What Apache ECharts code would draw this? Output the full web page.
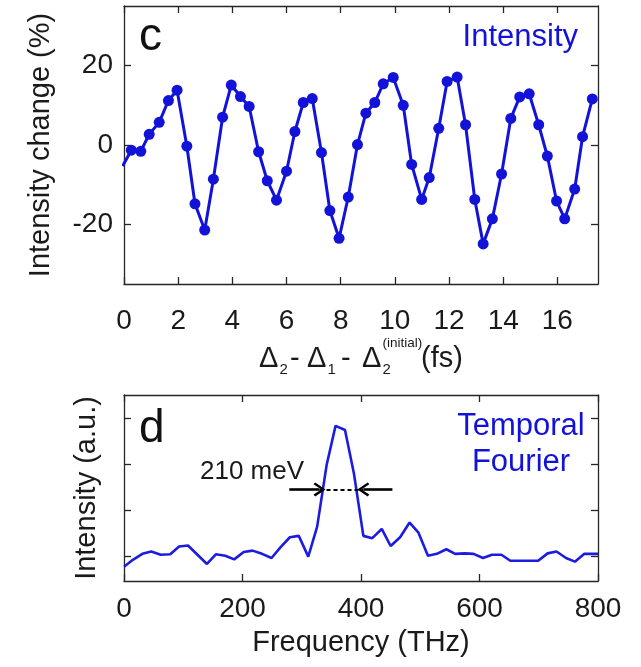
<!DOCTYPE html>
<html><head><meta charset="utf-8">
<script src="https://cdn.jsdelivr.net/npm/echarts@6/dist/echarts.min.js"></script>
<style>html,body{margin:0;padding:0;background:#fff}#c{width:641px;height:667px}</style>
</head><body><div id="c"></div>
<script>
// ---- Panel c: intensity change vs delay ----
const delayFs = [-0.05,0.27,0.62,0.93,1.30,1.64,1.96,2.32,2.62,2.98,3.30,3.64,3.96,4.30,4.62,4.97,5.29,5.63,6.00,6.31,6.62,6.95,7.29,7.60,7.94,8.28,8.62,8.93,9.26,9.57,9.94,10.31,10.62,10.99,11.27,11.62,11.93,12.30,12.61,12.95,13.26,13.60,13.94,14.28,14.61,14.96,15.31,15.63,15.97,16.27,16.64,16.93,17.29];
const intensityChange = [-5.3,-1.3,-1.6,2.7,5.7,11.2,13.8,-0.3,-14.8,-21.4,-8.6,7.0,15.1,12.2,9.7,-1.7,-9.0,-13.9,-6.6,3.4,10.7,11.7,-1.9,-16.5,-23.5,-13.1,0.1,8.0,10.7,15.4,17.0,10.0,-4.9,-13.7,-8.2,4.2,16.0,17.1,5.1,-13.7,-24.9,-18.6,-7.3,6.7,12.1,12.9,5.1,-2.8,-14.1,-18.6,-11.1,2.1,11.6];
const topXTicks = [0,2,4,6,8,10,12,14,16];
const topYTicks = [-20,0,20];

// ---- Panel d: temporal Fourier spectrum ----
const freqTHz = [0,15,31,46,62,78,93,108,124,140,155,171,186,202,217,233,249,264,280,295,311,326,342,357,373,388,404,419,435,450,466,482,497,513,528,544,559,575,590,606,621,637,652,668,684,699,715,730,746,761,777,792,800];
const fourierIntensity = [0.78,0.93,1.06,1.11,1.04,1.05,1.22,1.24,1.04,0.84,1.05,1.02,0.94,1.10,1.13,1.06,0.97,1.20,1.42,1.45,1.00,1.65,2.99,3.84,3.75,2.81,1.45,1.40,1.60,1.23,1.42,1.74,1.52,1.02,1.06,1.16,1.06,1.07,1.06,0.97,1.04,1.04,0.91,0.91,0.91,0.91,1.07,1.11,0.97,0.89,1.06,1.06,1.06];
const bottomXTicks = [0,200,400,600,800];
const bottomYTicks = [1,2,3,4];
// FWHM annotation (data units)
const fwhmLevel = 2.46;
const fwhmLeftTail = 279, fwhmLeftHead = 330;
const fwhmRightHead = 404, fwhmRightTail = 453;

const FONT = '"Liberation Sans", Arial, sans-serif';
const AX = '#262626';
const BLUE = '#1212d8';

function xAx(gi, pos, min, max, ticks, showLabel, margin) {
  return {type:'value', gridIndex:gi, position:pos, min:min, max:max,
    axisLine:{show:true, onZero:false, lineStyle:{color:AX, width:1.3}},
    axisTick:{show:true, inside:true, length:7, customValues:ticks, lineStyle:{color:AX, width:1.3}},
    axisLabel:{show:showLabel, customValues:ticks, margin:margin, fontSize:28, color:'#1a1a1a', fontFamily:FONT},
    splitLine:{show:false}};
}
function yAx(gi, pos, min, max, ticks, showLabel) {
  return {type:'value', gridIndex:gi, position:pos, min:min, max:max,
    axisLine:{show:true, onZero:false, lineStyle:{color:AX, width:1.3}},
    axisTick:{show:true, inside:true, length:7, customValues:ticks, lineStyle:{color:AX, width:1.3}},
    axisLabel:{show:showLabel, customValues:ticks, margin:11, fontSize:28, color:'#1a1a1a', fontFamily:FONT},
    splitLine:{show:false}};
}

const chevron = 'path://M0,0 L7,9 L5.2,10.5 L0,3.6 L-5.2,10.5 L-7,9 Z';

function txt(x, y, text, size, color, align, extra) {
  return Object.assign({type:'text', x:x, y:y, silent:true,
    style:{text:text, fill:color, font:size+'px '+FONT, textAlign:align, textVerticalAlign:'middle', align:align, verticalAlign:'middle'}}, extra||{});
}

const chart = echarts.init(document.getElementById('c'), null, {renderer:'canvas'});
chart.setOption({
  animation:false,
  backgroundColor:'#ffffff',
  grid:[
    {left:124, top:6, width:474, height:278},
    {left:124, top:395, width:474, height:186}
  ],
  xAxis:[
    xAx(0,'bottom',0,17.5,topXTicks,true,23),
    xAx(0,'top',0,17.5,topXTicks,false,0),
    xAx(1,'bottom',0,800,bottomXTicks,true,14),
    xAx(1,'top',0,800,bottomXTicks,false,0)
  ],
  yAxis:[
    yAx(0,'left',-35,35,topYTicks,true),
    yAx(0,'right',-35,35,topYTicks,false),
    yAx(1,'left',0.47,4.51,bottomYTicks,false),
    yAx(1,'right',0.47,4.51,bottomYTicks,false)
  ],
  series:[
    {type:'line', xAxisIndex:0, yAxisIndex:0, clip:true,
     data: delayFs.map((d,i)=>[d, intensityChange[i]]),
     symbol:'circle', symbolSize:11, showSymbol:true,
     lineStyle:{color:BLUE, width:3}, itemStyle:{color:BLUE}},
    {type:'line', xAxisIndex:2, yAxisIndex:2, clip:true,
     data: freqTHz.map((f,i)=>[f, fourierIntensity[i]]),
     symbol:'none', lineStyle:{color:'#1c1ce0', width:2.6},
     markLine:{silent:true, animation:false, label:{show:false},
       symbol:['none','none'],
       data:[
         [{coord:[fwhmLeftTail,fwhmLevel], symbol:'none', lineStyle:{color:'#000', width:2.6, type:'solid'}},
          {coord:[fwhmLeftHead,fwhmLevel], symbol:chevron, symbolSize:[14,12]}],
         [{coord:[fwhmRightTail,fwhmLevel], symbol:'none', lineStyle:{color:'#000', width:2.6, type:'solid'}},
          {coord:[fwhmRightHead,fwhmLevel], symbol:chevron, symbolSize:[14,12]}],
         [{coord:[fwhmLeftHead,fwhmLevel], symbol:'none', lineStyle:{color:'#000', width:1.8, type:[4,3]}},
          {coord:[fwhmRightHead,fwhmLevel], symbol:'none'}]
       ]}}
  ],
  graphic:[
    txt(139, 37, 'c', 46, '#111', 'left'),
    txt(578, 37.5, 'Intensity', 31, BLUE, 'right'),
    txt(41, 145, 'Intensity change (%)', 29, '#1a1a1a', 'center', {rotation:Math.PI/2}),
    // x label of panel c
    txt(259, 358.5, 'Δ', 29, '#1a1a1a', 'left'),
    txt(279.5, 370, '2', 15, '#1a1a1a', 'left'),
    txt(290, 358.5, '-', 29, '#1a1a1a', 'left'),
    txt(307, 358.5, 'Δ', 29, '#1a1a1a', 'left'),
    txt(327.5, 370, '1', 15, '#1a1a1a', 'left'),
    txt(341, 358.5, '-', 29, '#1a1a1a', 'left'),
    txt(362, 358.5, 'Δ', 29, '#1a1a1a', 'left'),
    txt(382.5, 370, '2', 15, '#1a1a1a', 'left'),
    txt(382.5, 343, '(initial)', 13.5, '#1a1a1a', 'left'),
    txt(421, 358.5, '(fs)', 29, '#1a1a1a', 'left'),
    // panel d texts
    txt(139, 429, 'd', 46, '#111', 'left'),
    txt(521, 426, 'Temporal', 31, BLUE, 'center'),
    txt(521, 462.5, 'Fourier', 31, BLUE, 'center'),
    txt(200, 472, '210 meV', 26, '#1a1a1a', 'left'),
    txt(87, 488, 'Intensity (a.u.)', 29, '#1a1a1a', 'center', {rotation:Math.PI/2}),
    txt(361, 643, 'Frequency (THz)', 29, '#1a1a1a', 'center')
  ]
});
</script>
</body></html>
